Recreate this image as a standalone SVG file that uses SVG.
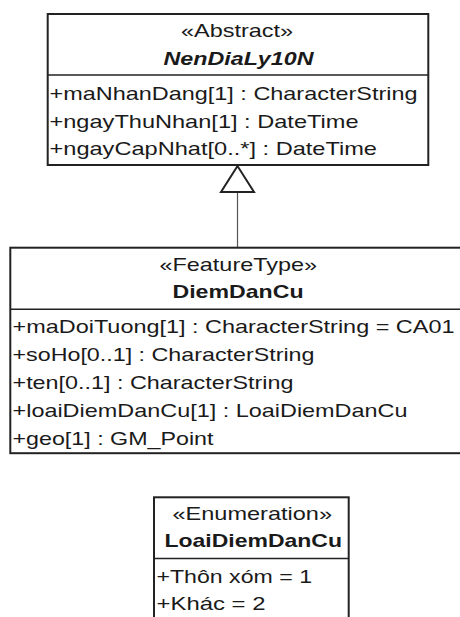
<svg xmlns="http://www.w3.org/2000/svg" width="460" height="617" viewBox="0 0 460 617">
<style>
.box{fill:#fff;stroke:#222;stroke-width:2}
.div{stroke:#222;stroke-width:1.6}
text{font-family:"Liberation Sans",Arial,sans-serif;font-size:19px;fill:#1a1a1a}
.b{font-weight:bold}
.bi{font-weight:bold;font-style:italic}
.conn{stroke:#555;stroke-width:1.2;fill:none}
.tri{fill:#fff;stroke:#222;stroke-width:2}
</style>
<rect width="460" height="617" fill="#fff"/>
<g id="connectors">
<line class="conn" x1="237.5" y1="192" x2="237.5" y2="248"/>
<polygon class="tri" points="237.5,166 221,192 254,192"/>
</g>
<g id="NenDiaLy10N">
<rect class="box" x="47.7" y="14" width="380.6" height="151"/>
<line class="div" x1="47.7" y1="75" x2="428.3" y2="75"/>
<text x="181" y="36.5" textLength="112" lengthAdjust="spacingAndGlyphs">«Abstract»</text>
<text class="bi" x="163.5" y="65" textLength="150" lengthAdjust="spacingAndGlyphs">NenDiaLy10N</text>
<text x="49.5" y="100" textLength="368" lengthAdjust="spacingAndGlyphs">+maNhanDang[1] : CharacterString</text>
<text x="49.5" y="127.7" textLength="309" lengthAdjust="spacingAndGlyphs">+ngayThuNhan[1] : DateTime</text>
<text x="49.5" y="155" textLength="327.5" lengthAdjust="spacingAndGlyphs">+ngayCapNhat[0..*] : DateTime</text>
</g>
<g id="DiemDanCu">
<rect class="box" x="10.3" y="247.7" width="470" height="205.5"/>
<line class="div" x1="10.3" y1="309.3" x2="470" y2="309.3"/>
<text x="159.5" y="270.5" textLength="157.5" lengthAdjust="spacingAndGlyphs">«FeatureType»</text>
<text class="b" x="172.5" y="297.5" textLength="131" lengthAdjust="spacingAndGlyphs">DiemDanCu</text>
<text x="12.5" y="332.5" textLength="442" lengthAdjust="spacingAndGlyphs">+maDoiTuong[1] : CharacterString = CA01</text>
<text x="12.5" y="360.5" textLength="302" lengthAdjust="spacingAndGlyphs">+soHo[0..1] : CharacterString</text>
<text x="12.5" y="388.5" textLength="281" lengthAdjust="spacingAndGlyphs">+ten[0..1] : CharacterString</text>
<text x="12.5" y="416.5" textLength="395" lengthAdjust="spacingAndGlyphs">+loaiDiemDanCu[1] : LoaiDiemDanCu</text>
<text x="12.5" y="444.5" textLength="201" lengthAdjust="spacingAndGlyphs">+geo[1] : GM_Point</text>
</g>
<g id="LoaiDiemDanCu">
<rect class="box" x="154" y="497.3" width="194.7" height="140"/>
<line class="div" x1="154" y1="558.5" x2="348.7" y2="558.5"/>
<text x="172.5" y="519.5" textLength="159.5" lengthAdjust="spacingAndGlyphs">«Enumeration»</text>
<text class="b" x="164.5" y="546.5" textLength="177.5" lengthAdjust="spacingAndGlyphs">LoaiDiemDanCu</text>
<text x="156.5" y="582.5" textLength="155.5" lengthAdjust="spacingAndGlyphs">+Thôn xóm = 1</text>
<text x="156.5" y="609.5" textLength="109" lengthAdjust="spacingAndGlyphs">+Khác = 2</text>
</g>
</svg>
